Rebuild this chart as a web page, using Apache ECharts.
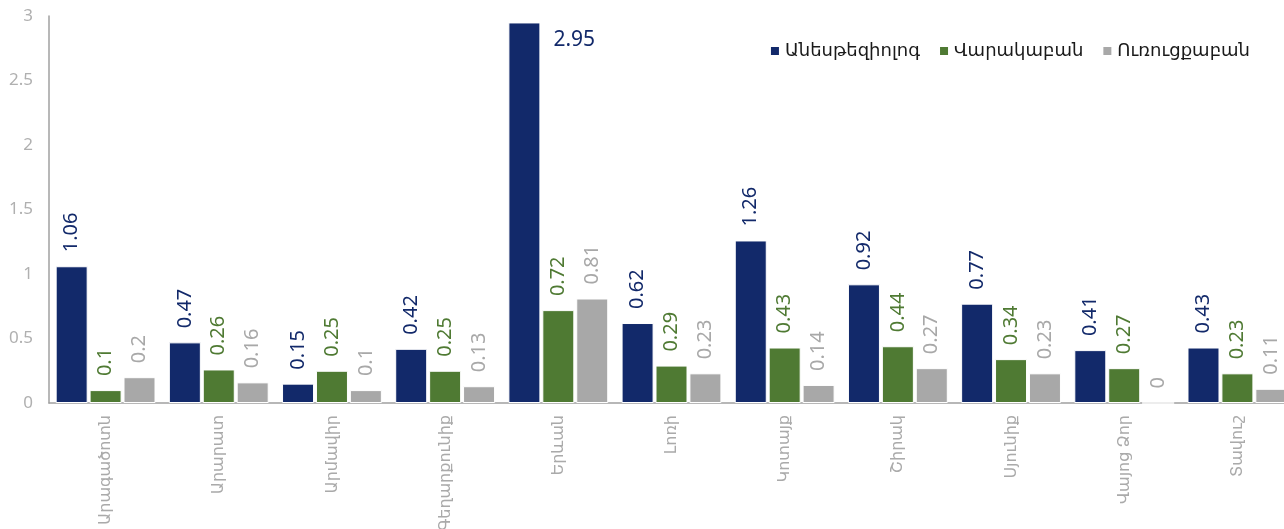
<!DOCTYPE html>
<html><head><meta charset="utf-8">
<script src="https://cdn.jsdelivr.net/npm/echarts@6/dist/echarts.min.js"></script>
<style>html,body{margin:0;padding:0;background:#fff}#c{width:1284px;height:529px}</style>
</head><body><div id="c"></div>
<script>
const categories = ['Արագածոտն','Արարատ','Արմավիր','Գեղարքունիք','Երևան','Լոռի','Կոտայք','Շիրակ','Սյունիք','Վայոց Ձոր','Տավուշ'];
const seriesNames = ['Անեսթեզիոլոգ','Վարակաբան','Ուռուցքաբան'];
const anesthesiologist = [1.06,0.47,0.15,0.42,2.95,0.62,1.26,0.92,0.77,0.41,0.43];
const infectiologist = [0.1,0.26,0.25,0.25,0.72,0.29,0.43,0.44,0.34,0.27,0.23];
const oncologist = [0.2,0.16,0.1,0.13,0.81,0.23,0.14,0.27,0.23,0,0.11];
const yTicks = [0,0.5,1,1.5,2,2.5,3];
const colors = ['#12296a','#4f7a33','#a8a8a8'];
const FONT = "'Noto Sans','DejaVu Sans',sans-serif";

function mkSeries(name, data, color, idx){
  return {
    name, type:'bar', data: data.map((v,i)=>{
      if (idx===0 && v>2.9) {
        return {value:v, label:{rotate:0, position:[45,7], align:'left', verticalAlign:'top', fontSize:21}};
      }
      return v;
    }),
    barWidth: 32, barGap:'6%', barCategoryGap:'12%',
    itemStyle:{color, borderColor:'#fff', borderWidth:1},
    label:{show:true, position:'top', rotate:90, align:'left', verticalAlign:'middle', distance:14,
      color, fontSize:20, fontFamily:FONT, formatter:p=>String(p.value)}
  };
}
const chart = echarts.init(document.getElementById('c'));
chart.setOption({
  animation:false,
  textStyle:{fontFamily:FONT},
  legend:{data:seriesNames, right:29, top:37, itemWidth:10, itemHeight:10, itemGap:18,
    icon:'rect', textStyle:{fontSize:18, color:'#1a1a1a', fontFamily:FONT}},
  grid:{left:49, top:16, width:1245, height:387, containLabel:false, outerBoundsMode:'none'},
  xAxis:{type:'category', data:categories,
    axisLine:{lineStyle:{color:'#a0a0a0', width:1.5}}, axisTick:{show:false},
    axisLabel:{rotate:90, color:'#aaaaaa', fontSize:16, margin:12, interval:0, fontFamily:FONT}},
  yAxis:{type:'value', min:yTicks[0], max:yTicks[yTicks.length-1], interval:0.5,
    axisLine:{show:true, lineStyle:{color:'#a0a0a0', width:1.5}}, axisTick:{show:false},
    splitLine:{show:false},
    axisLabel:{color:'#b0b0b0', fontSize:17, margin:16, fontFamily:FONT}},
  series:[mkSeries(seriesNames[0],anesthesiologist,colors[0],0),
          mkSeries(seriesNames[1],infectiologist,colors[1],1),
          mkSeries(seriesNames[2],oncologist,colors[2],2)]
});
</script></body></html>
